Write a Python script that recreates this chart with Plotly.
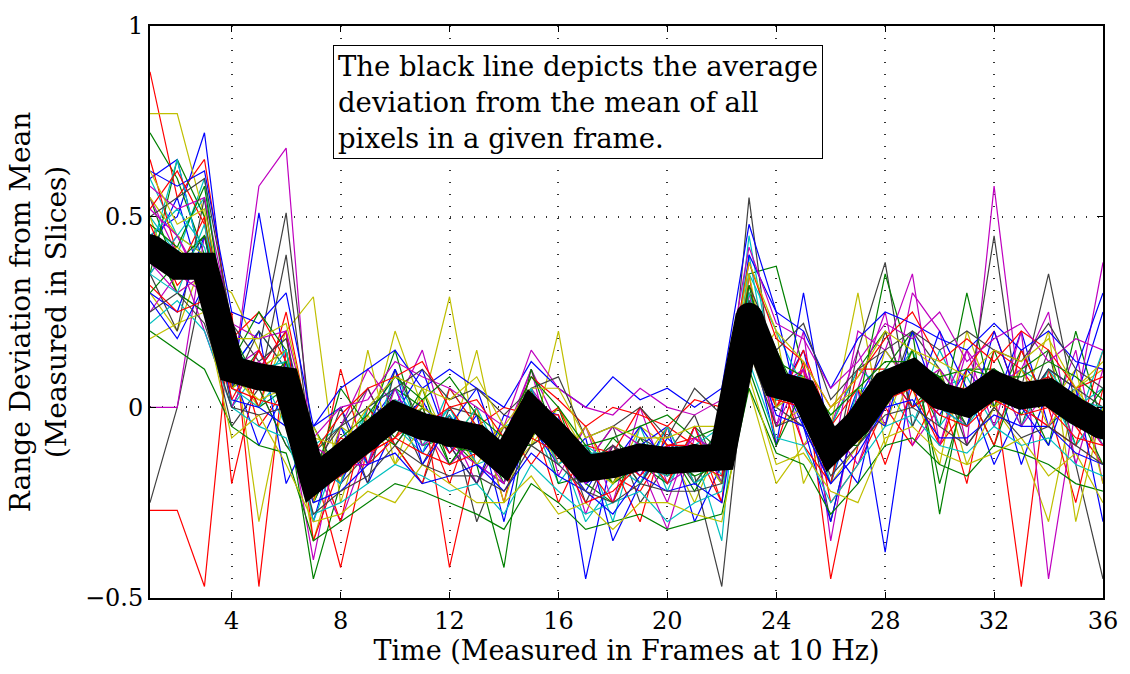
import plotly.graph_objects as go

frames = list(range(1, 37))

mean_dev = [0.42, 0.37, 0.37, 0.10, 0.08, 0.07, -0.19, -0.14, -0.08, -0.02, -0.05, -0.07,
            -0.08, -0.14, -0.01, -0.08, -0.16, -0.15, -0.13, -0.14, -0.13, -0.13, 0.24, 0.06,
            0.04, -0.11, -0.04, 0.06, 0.09, 0.03, 0.01, 0.06, 0.03, 0.04, -0.01, -0.05]

pixels = [
    [0.45,0.50,0.72,0.15,0.10,0.20,-0.25,-0.10,-0.05,0.05,-0.12,-0.02,-0.15,-0.20,0.02,-0.12,-0.22,-0.10,-0.18,-0.05,-0.20,-0.10,0.30,0.10,-0.05,-0.20,0.02,0.15,0.05,-0.02,0.10,0.00,0.20,-0.05,0.02,0.25],
    [0.72,0.60,0.40,0.05,0.15,0.00,-0.45,-0.20,0.00,-0.08,0.05,-0.15,-0.05,-0.10,-0.08,0.00,-0.20,-0.25,-0.08,-0.18,-0.10,-0.20,0.35,0.37,0.10,-0.05,0.10,0.20,0.00,0.08,-0.05,0.15,-0.02,0.10,-0.10,0.00],
    [0.88,0.55,0.65,0.20,-0.05,0.05,-0.15,-0.42,-0.10,0.02,-0.02,-0.20,0.00,-0.25,0.05,-0.15,-0.05,-0.18,-0.22,-0.10,-0.15,-0.05,0.20,0.00,0.10,-0.45,-0.10,0.05,0.15,-0.10,0.00,0.05,-0.47,0.10,-0.05,-0.15],
    [0.50,0.40,0.60,0.10,0.20,0.10,-0.10,-0.05,-0.15,0.10,-0.08,0.00,-0.12,-0.05,-0.02,-0.20,-0.10,-0.30,-0.05,-0.22,-0.05,-0.18,0.45,0.05,0.00,-0.15,-0.02,0.00,0.10,0.05,0.08,-0.05,0.05,0.00,0.05,-0.10],
    [0.35,0.45,0.30,0.05,0.58,0.68,-0.20,-0.12,0.05,-0.10,0.00,-0.05,-0.20,-0.08,0.10,-0.05,-0.28,-0.10,-0.15,-0.32,-0.08,-0.15,0.25,0.15,-0.10,-0.05,0.15,-0.05,0.30,0.20,-0.10,0.58,0.00,-0.05,0.15,-0.20],
    [0.77,0.77,0.50,0.10,0.00,0.20,0.29,-0.25,-0.02,-0.15,0.05,-0.10,0.15,-0.18,-0.10,0.00,-0.12,-0.20,-0.05,-0.10,-0.25,-0.08,0.15,-0.05,0.00,-0.20,-0.10,0.15,0.05,-0.15,0.20,0.00,-0.10,-0.30,0.05,0.10],
    [-0.25,0.00,0.35,0.00,0.15,0.51,-0.10,-0.20,-0.12,0.00,-0.15,-0.02,-0.30,-0.12,-0.05,-0.10,-0.15,-0.05,-0.25,-0.15,-0.18,-0.47,0.20,0.10,0.05,-0.30,0.00,0.00,0.20,0.10,0.00,0.45,-0.05,0.15,-0.15,-0.45],
    [0.40,0.55,0.30,0.05,0.51,0.10,-0.30,-0.05,-0.20,-0.05,0.02,-0.12,-0.02,-0.30,0.00,-0.02,-0.45,-0.12,-0.10,-0.05,-0.30,-0.15,0.28,0.02,0.15,-0.15,0.05,-0.38,0.10,0.00,0.05,0.10,-0.15,0.05,-0.05,0.00],
    [0.55,0.35,0.45,0.15,0.00,0.05,-0.05,-0.18,-0.05,0.15,-0.10,-0.08,-0.15,-0.42,0.05,-0.20,-0.18,-0.08,-0.15,-0.20,-0.05,-0.12,0.15,0.08,0.00,-0.10,0.02,0.10,0.20,-0.28,0.10,0.10,0.05,-0.10,0.20,-0.05],
    [-0.27,-0.27,-0.47,0.25,-0.47,0.15,-0.25,0.10,-0.15,-0.08,0.02,-0.42,-0.10,-0.05,-0.15,-0.05,-0.20,-0.15,-0.30,-0.05,-0.10,-0.25,0.35,-0.10,0.12,-0.25,-0.15,0.00,-0.10,0.05,-0.20,0.15,0.10,0.00,-0.25,0.05],
    [0.60,0.45,0.55,0.00,0.10,-0.05,-0.20,-0.15,0.00,-0.05,-0.12,0.05,-0.05,-0.18,0.00,-0.10,-0.30,-0.20,-0.10,-0.15,-0.12,-0.35,0.40,0.00,0.05,-0.05,0.10,0.05,-0.05,0.15,0.00,0.05,0.10,0.05,-0.10,0.00],
    [0.00,0.00,0.45,0.12,0.05,-0.10,-0.15,-0.30,-0.10,0.00,-0.05,-0.15,-0.08,-0.10,0.10,-0.18,-0.05,-0.25,0.00,-0.20,-0.15,-0.05,0.30,-0.05,0.20,-0.35,0.05,0.25,-0.10,0.00,0.15,-0.05,0.20,-0.45,0.00,0.38],
    [0.30,0.20,0.40,0.20,-0.30,0.05,-0.35,-0.10,-0.08,0.20,0.00,0.29,-0.10,-0.05,-0.10,0.20,-0.20,-0.10,-0.15,-0.05,-0.20,-0.10,0.10,0.20,-0.20,-0.05,0.30,-0.10,0.10,0.00,-0.05,0.10,0.00,0.20,-0.30,0.00],
    [0.45,0.30,0.25,-0.05,0.05,0.40,-0.15,-0.05,0.05,-0.10,-0.20,0.00,-0.02,-0.15,0.02,-0.10,-0.12,-0.20,-0.08,-0.12,-0.02,-0.20,0.55,0.00,-0.05,-0.20,0.15,0.38,-0.05,0.10,-0.10,0.00,0.05,0.35,0.00,-0.10],
    [0.60,0.65,0.35,0.10,0.20,-0.20,-0.05,0.00,-0.15,-0.02,0.10,-0.10,-0.20,-0.02,-0.05,-0.15,-0.08,-0.35,-0.20,-0.08,-0.15,-0.05,0.20,-0.10,0.30,-0.10,-0.20,0.10,0.00,0.20,0.05,-0.15,0.00,0.10,0.05,-0.30],
    [0.35,0.65,0.50,0.05,0.10,0.15,-0.25,-0.10,-0.10,0.05,0.00,-0.05,-0.08,-0.10,-0.10,-0.05,-0.15,-0.10,-0.20,-0.10,-0.22,-0.10,0.30,0.15,0.00,-0.15,0.00,0.35,0.10,-0.05,0.30,0.00,0.15,0.00,0.00,-0.15],
    [0.65,0.40,0.30,0.15,0.00,0.25,-0.10,-0.30,0.00,-0.10,-0.20,0.05,-0.05,0.00,-0.02,-0.25,-0.10,-0.12,0.00,-0.10,-0.08,-0.15,0.15,0.00,0.15,-0.05,0.05,-0.15,0.05,-0.10,0.10,0.20,0.00,-0.05,-0.10,0.15],
    [0.40,0.65,0.35,0.15,0.05,0.05,-0.30,-0.10,-0.05,-0.05,-0.10,0.00,-0.15,-0.12,-0.05,-0.05,-0.20,-0.15,-0.12,-0.20,-0.10,-0.05,0.35,0.20,0.05,-0.20,0.05,0.05,0.15,-0.05,0.05,0.10,-0.05,0.10,0.00,0.05],
    [0.55,0.40,0.20,0.00,0.15,0.00,-0.40,-0.05,0.10,0.00,0.15,-0.10,-0.15,-0.20,0.05,-0.10,-0.15,-0.05,-0.10,-0.25,-0.05,-0.20,0.20,-0.05,0.10,-0.15,0.20,0.15,0.35,-0.10,0.15,0.05,0.10,0.25,-0.15,0.10],
    [0.50,0.30,0.35,0.30,0.15,0.00,-0.05,-0.20,0.15,-0.15,-0.05,-0.10,0.00,-0.25,-0.02,-0.15,-0.05,-0.20,-0.12,-0.15,-0.10,-0.20,0.05,-0.20,-0.10,0.00,0.05,-0.05,0.15,0.10,-0.15,0.00,0.05,0.00,0.10,-0.20],
    [0.35,0.20,0.55,0.05,0.20,0.10,-0.20,0.00,-0.20,0.10,-0.05,-0.10,-0.20,-0.05,-0.10,-0.05,-0.25,-0.10,-0.20,-0.10,-0.20,-0.10,0.25,0.05,0.00,-0.05,-0.05,0.20,0.00,0.05,-0.05,0.10,0.00,0.10,0.05,0.00],
    [0.30,0.25,0.45,0.10,-0.10,0.05,-0.15,-0.20,-0.05,0.10,-0.15,-0.05,0.05,-0.15,0.00,-0.10,-0.20,-0.15,-0.05,-0.15,-0.10,-0.10,0.40,0.25,-0.05,-0.30,0.00,-0.05,0.20,0.00,-0.05,0.20,0.00,-0.10,0.10,0.30],
    [0.45,0.30,0.25,0.20,0.05,-0.10,-0.20,0.05,-0.05,-0.10,0.00,-0.15,-0.05,-0.20,0.10,-0.10,-0.10,-0.20,-0.15,-0.10,-0.15,-0.05,0.10,-0.10,0.05,-0.10,-0.10,0.00,0.15,-0.20,0.05,-0.10,0.10,0.15,-0.05,0.05],
    [0.40,0.35,0.50,-0.20,0.10,0.20,-0.35,-0.15,-0.15,0.00,-0.05,0.00,-0.10,-0.10,-0.05,0.00,-0.15,-0.25,-0.10,-0.20,-0.05,-0.25,0.30,0.10,-0.10,-0.20,0.10,0.10,0.00,0.05,0.05,-0.10,0.15,0.00,0.00,-0.10],
    [0.35,0.45,0.40,0.05,0.00,0.10,-0.15,-0.20,0.00,0.05,-0.05,-0.10,0.00,-0.15,0.00,-0.15,-0.10,-0.15,-0.20,-0.05,-0.20,-0.15,0.25,0.10,0.00,-0.10,0.00,0.10,0.10,0.00,-0.05,0.05,0.05,0.00,-0.05,0.15],
    [0.25,0.35,0.30,0.10,0.15,0.00,-0.10,-0.15,-0.15,0.05,-0.10,-0.05,-0.10,-0.20,0.05,-0.05,-0.20,-0.10,-0.15,-0.10,-0.15,-0.15,0.15,0.05,0.10,-0.05,-0.15,0.05,0.05,0.10,0.00,0.10,-0.05,0.05,0.00,-0.10],
    [0.55,0.45,0.40,0.05,0.10,0.15,-0.25,-0.05,-0.10,-0.05,0.00,-0.05,-0.15,-0.05,-0.05,-0.10,-0.15,-0.20,-0.10,-0.15,-0.10,-0.10,0.35,0.00,0.05,-0.15,0.00,0.00,0.10,0.00,0.05,0.00,0.10,-0.05,0.05,-0.05],
    [0.40,0.35,0.45,0.15,0.05,0.05,-0.20,-0.10,-0.05,-0.05,-0.05,-0.10,-0.05,-0.15,0.00,-0.05,-0.15,-0.10,-0.15,-0.15,-0.10,-0.15,0.25,0.05,0.05,-0.10,-0.05,0.10,0.05,0.05,0.00,0.05,0.00,0.05,-0.05,-0.05],
    [0.62,0.58,0.62,0.25,0.22,0.30,-0.05,0.05,0.10,0.15,0.05,0.10,0.05,0.00,0.12,0.05,0.00,0.08,0.02,0.05,0.00,0.05,0.48,0.25,0.20,0.05,0.18,0.25,0.22,0.18,0.15,0.22,0.15,0.20,0.12,0.10],
    [0.20,0.15,0.10,-0.05,-0.10,-0.12,-0.35,-0.30,-0.25,-0.20,-0.22,-0.25,-0.28,-0.32,-0.20,-0.25,-0.32,-0.30,-0.28,-0.32,-0.30,-0.28,0.05,-0.12,-0.15,-0.28,-0.20,-0.10,-0.08,-0.15,-0.18,-0.10,-0.12,-0.15,-0.20,-0.22],
    [0.52,0.62,0.48,0.18,0.25,0.12,-0.12,-0.02,0.05,0.08,0.12,0.00,0.02,-0.08,0.08,0.02,-0.05,0.00,-0.02,-0.05,0.02,0.00,0.38,0.18,0.12,0.00,0.08,0.18,0.25,0.12,0.18,0.12,0.20,0.15,0.05,0.08],
    [0.22,0.28,0.20,0.00,-0.05,-0.08,-0.28,-0.25,-0.20,-0.15,-0.18,-0.22,-0.20,-0.28,-0.15,-0.22,-0.28,-0.25,-0.22,-0.30,-0.25,-0.22,0.12,-0.08,-0.10,-0.25,-0.15,-0.05,-0.02,-0.10,-0.12,-0.05,-0.10,-0.08,-0.15,-0.18],
    [0.58,0.52,0.55,0.22,0.18,0.20,-0.08,0.00,0.02,0.12,0.08,0.05,0.00,-0.05,0.15,0.05,0.00,-0.02,0.05,0.00,-0.02,0.02,0.42,0.22,0.18,0.05,0.12,0.22,0.18,0.25,0.12,0.18,0.22,0.12,0.18,0.15],
    [0.18,0.22,0.25,-0.08,-0.02,-0.15,-0.30,-0.28,-0.22,-0.25,-0.15,-0.20,-0.25,-0.25,-0.18,-0.28,-0.25,-0.32,-0.25,-0.25,-0.28,-0.30,0.08,-0.15,-0.12,-0.22,-0.25,-0.08,-0.05,-0.12,-0.15,-0.12,-0.08,-0.18,-0.12,-0.25],
    [0.50,0.55,0.60,0.22,0.12,0.18,-0.12,-0.05,0.00,0.05,0.10,0.02,0.05,-0.02,0.05,0.08,-0.08,-0.05,0.00,-0.08,0.05,-0.02,0.32,0.15,0.22,0.02,0.10,0.15,0.20,0.15,0.20,0.15,0.12,0.22,0.10,0.05],
    [0.28,0.18,0.32,0.02,0.00,-0.05,-0.25,-0.22,-0.15,-0.12,-0.20,-0.18,-0.15,-0.22,-0.12,-0.18,-0.22,-0.28,-0.18,-0.22,-0.20,-0.25,0.18,-0.02,-0.05,-0.20,-0.12,0.00,0.02,-0.08,-0.08,-0.02,-0.05,-0.05,-0.12,-0.15],
    [0.48,0.42,0.58,0.12,0.25,0.15,-0.18,-0.08,-0.02,0.08,0.02,0.08,-0.02,-0.08,0.08,0.00,-0.10,-0.08,-0.05,-0.02,-0.08,-0.05,0.28,0.12,0.08,-0.02,0.05,0.12,0.12,0.08,0.10,0.08,0.08,0.12,0.08,0.02],
    [0.32,0.25,0.28,0.05,0.02,0.00,-0.22,-0.18,-0.12,-0.08,-0.12,-0.15,-0.12,-0.18,-0.08,-0.12,-0.25,-0.22,-0.15,-0.18,-0.15,-0.18,0.22,0.02,0.00,-0.15,-0.08,0.02,0.05,-0.02,-0.05,0.02,-0.02,0.00,-0.08,-0.10],
    [0.45,0.52,0.42,0.15,0.10,0.12,-0.15,-0.12,-0.08,0.02,-0.02,-0.05,-0.08,-0.12,0.02,-0.08,-0.12,-0.12,-0.10,-0.12,-0.12,-0.10,0.30,0.08,0.08,-0.08,0.00,0.08,0.12,0.02,0.05,0.08,0.05,0.08,0.02,0.00],
    [0.38,0.30,0.35,0.08,0.12,0.05,-0.22,-0.15,-0.10,-0.02,-0.08,-0.08,-0.10,-0.15,-0.05,-0.10,-0.18,-0.18,-0.15,-0.12,-0.15,-0.12,0.22,0.05,0.02,-0.12,-0.05,0.05,0.08,0.05,0.00,0.05,0.02,0.02,0.00,-0.08],
    [0.62,0.48,0.52,0.18,0.18,0.22,-0.08,-0.10,0.00,0.08,0.05,0.02,0.08,-0.05,0.05,0.05,-0.08,-0.05,-0.08,-0.08,-0.05,-0.05,0.38,0.20,0.12,0.00,0.08,0.20,0.15,0.12,0.08,0.15,0.12,0.18,0.05,0.12],
    [0.25,0.30,0.22,0.00,-0.02,0.00,-0.28,-0.22,-0.18,-0.10,-0.15,-0.18,-0.18,-0.22,-0.10,-0.15,-0.22,-0.25,-0.20,-0.22,-0.22,-0.20,0.15,-0.05,-0.02,-0.18,-0.10,-0.02,0.00,-0.05,-0.10,0.00,-0.08,-0.05,-0.10,-0.15],
    [0.42,0.40,0.38,0.12,0.08,0.10,-0.18,-0.12,-0.08,0.00,-0.05,-0.05,-0.08,-0.12,0.00,-0.08,-0.15,-0.15,-0.12,-0.15,-0.12,-0.12,0.25,0.08,0.05,-0.10,-0.02,0.05,0.10,0.02,0.02,0.08,0.02,0.05,0.00,-0.05],
    [0.30,0.38,0.45,0.18,0.05,0.12,-0.12,-0.18,-0.05,-0.05,-0.02,-0.10,-0.12,-0.18,0.02,-0.12,-0.12,-0.18,-0.10,-0.12,-0.18,-0.15,0.32,0.02,0.08,-0.15,0.02,0.02,0.12,0.08,-0.02,0.10,0.05,0.00,0.02,-0.08],
    [0.48,0.32,0.40,0.02,0.15,0.02,-0.20,-0.08,-0.12,-0.08,-0.02,-0.12,-0.05,-0.12,-0.02,-0.02,-0.18,-0.12,-0.18,-0.10,-0.10,-0.15,0.20,0.12,0.00,-0.08,-0.08,0.08,0.05,0.00,0.05,0.02,0.05,0.08,-0.05,-0.02],
    [0.35,0.30,0.48,0.10,0.05,0.15,-0.22,-0.12,-0.12,0.00,-0.08,-0.02,-0.10,-0.18,0.05,-0.10,-0.18,-0.12,-0.15,-0.18,-0.12,-0.15,0.28,0.02,0.05,-0.12,-0.05,0.08,0.08,0.05,0.02,0.05,0.00,0.02,0.00,-0.05],
    [0.52,0.45,0.32,0.12,0.10,0.08,-0.15,-0.18,-0.05,-0.05,-0.05,-0.10,-0.05,-0.10,-0.05,-0.05,-0.15,-0.18,-0.12,-0.15,-0.08,-0.12,0.25,0.10,0.02,-0.10,-0.02,0.02,0.12,0.00,0.05,0.02,0.05,0.05,-0.02,-0.08],
    [0.38,0.42,0.35,0.08,0.02,0.05,-0.18,-0.15,-0.10,-0.05,-0.08,-0.05,-0.05,-0.15,-0.02,-0.08,-0.18,-0.12,-0.15,-0.12,-0.15,-0.12,0.22,0.05,0.08,-0.12,-0.05,0.05,0.05,0.05,0.00,0.08,0.02,0.05,0.00,-0.02],
    [0.45,0.35,0.40,0.10,0.10,0.08,-0.20,-0.15,-0.08,-0.02,-0.05,-0.08,-0.10,-0.15,-0.02,-0.08,-0.15,-0.15,-0.12,-0.12,-0.12,-0.12,0.28,0.05,0.05,-0.12,-0.05,0.08,0.08,0.02,0.00,0.05,0.05,0.02,-0.02,-0.05],
]

color_order = ["#0000ff", "#008000", "#ff0000", "#00bfbf", "#bf00bf", "#bfbf00", "#404040"]

x_ticks = [4, 8, 12, 16, 20, 24, 28, 32, 36]
y_ticks = [-0.5, 0, 0.5, 1]
y_tick_text = ["\u22120.5", "0", "0.5", "1"]

FONT = "DejaVu Serif"

fig = go.Figure()
for i, series in enumerate(pixels):
    fig.add_trace(go.Scatter(x=frames, y=series, mode="lines",
                             line=dict(color=color_order[i % len(color_order)], width=1.2),
                             hoverinfo="skip", showlegend=False))

fig.add_trace(go.Scatter(x=frames, y=mean_dev, mode="lines+markers",
                         line=dict(color="black", width=27),
                         marker=dict(color="black", size=26, line=dict(width=0)),
                         showlegend=False))

axis_common = dict(showline=True, linecolor="black", linewidth=2, mirror="ticks",
                   ticks="inside", ticklen=6, tickcolor="black", tickwidth=1,
                   showgrid=True, gridcolor="#333333", griddash="1px,11px", gridwidth=1.5,
                   zeroline=False, tickfont=dict(family=FONT, size=24, color="black"))

fig.update_layout(
    width=1130, height=674,
    margin=dict(l=150, r=23, t=19, b=76),
    plot_bgcolor="white", paper_bgcolor="white",
    font=dict(family=FONT, color="black"),
    xaxis=dict(range=[1, 36], tickvals=x_ticks, ticktext=[str(v) for v in x_ticks],
               title=dict(text="Time (Measured in Frames at 10 Hz)",
                          font=dict(family=FONT, size=27), standoff=4),
               **axis_common),
    yaxis=dict(range=[-0.5, 1], tickvals=y_ticks, ticktext=y_tick_text,
               title=dict(text="Range Deviation from Mean<br>(Measured in Slices)",
                          font=dict(family=FONT, size=28), standoff=10),
               **axis_common),
    annotations=[dict(
        xref="paper", yref="paper", x=0.192, y=0.967, xanchor="left", yanchor="top",
        text="The black line depicts the average<br>deviation from the mean of all<br>pixels in a given frame.",
        align="left", showarrow=False, bgcolor="white", bordercolor="black", borderwidth=1,
        borderpad=4, font=dict(family=FONT, size=27.5, color="black"))],
)

fig.write_html("out.html")
